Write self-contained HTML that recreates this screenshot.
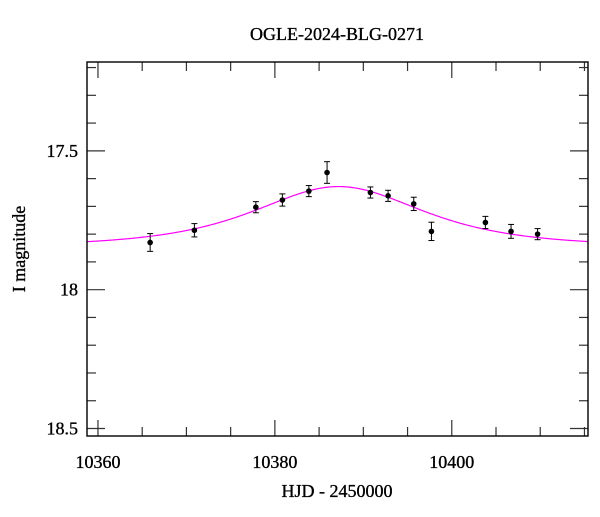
<!DOCTYPE html>
<html><head><meta charset="utf-8"><style>
body{margin:0;background:#fff;}
svg text{font-family:"Liberation Serif","DejaVu Serif",serif;fill:#000;stroke:#000;stroke-width:0.35;}
</style></head><body>
<svg id="chart" width="600" height="512" viewBox="0 0 600 512" xmlns="http://www.w3.org/2000/svg">
<text x="337" y="40" font-size="18" text-anchor="middle">OGLE-2024-BLG-0271</text>
<text transform="translate(25,249) rotate(-90)" font-size="18" text-anchor="middle">I magnitude</text>
<text x="337" y="497" font-size="18" text-anchor="middle">HJD - 2450000</text>
<g id="ticks"></g>
<path id="model" fill="none" stroke="#ff00ff" stroke-width="1.2"/>
<g id="points"></g>
<rect x="87" y="62" width="501" height="374" fill="none" stroke="#000" stroke-width="1.4"/>
</svg>
<script>
const obsDates=[10365.9,10370.9,10377.85,10380.85,10383.84,10385.9,10390.8,10392.8,10395.7,10397.7,10403.8,10406.7,10409.7];
const obsMags=[17.83,17.786,17.703,17.677,17.645,17.578,17.65,17.662,17.691,17.79,17.758,17.79,17.80];
const obsErrs=[0.032,0.024,0.02,0.022,0.02,0.039,0.02,0.02,0.024,0.033,0.022,0.025,0.02];
const modelT0=[10387.2];
const modelU0=[1.22];
const modelTE=[10.3];
const modelBase=[17.845];
const xTicks=[10360,10380,10400];
const yTicks=[17.5,18,18.5];
const yTickLabels=["17.5","18","18.5"];

const L=87,R=588,T=62,B=436;
const X0=10358.76,X1=10415.4,Y0=17.18,Y1=18.527;
const sx=v=>L+(v-X0)/(X1-X0)*(R-L);
const sy=v=>T+(v-Y0)/(Y1-Y0)*(B-T);
const NS="http://www.w3.org/2000/svg";
function mk(tag,attrs,parent){const e=document.createElementNS(NS,tag);for(const k in attrs)e.setAttribute(k,attrs[k]);parent.appendChild(e);return e;}
const tg=document.getElementById('ticks');
for(let v=10360;v<=X1;v+=5){
  const x=sx(v);const major=(v%20===0);const len=major?16:9;
  const t1=mk('line',{x1:x,x2:x,y1:B,y2:B-len,stroke:'#333','stroke-width':1.2},tg);
  
  const t2=mk('line',{x1:x,x2:x,y1:T,y2:T+len,stroke:'#333','stroke-width':1.2},tg);
  
}
xTicks.forEach(v=>{const t=mk('text',{x:sx(v),y:468,'font-size':18,'text-anchor':'middle'},tg);t.textContent=String(v);
  });
for(let i=2;i<=15;i++){
  const v=17+i*0.1;if(v<Y0||v>Y1)continue;
  const y=sy(v);const major=(i%5===0);const len=major?18:9;
  const t1=mk('line',{x1:L,x2:L+len,y1:y,y2:y,stroke:'#333','stroke-width':1.2},tg);
  
  const t2=mk('line',{x1:R,x2:R-len,y1:y,y2:y,stroke:'#333','stroke-width':1.2},tg);
  
}
yTicks.forEach((v,i)=>{const t=mk('text',{x:78,y:sy(v)+6,'font-size':18,'text-anchor':'end'},tg);t.textContent=yTickLabels[i];
  });
let d='';
for(let px=L;px<=R;px+=1){
  const t=X0+(px-L)/(R-L)*(X1-X0);
  const tau=(t-modelT0[0])/modelTE[0];
  const u=Math.sqrt(modelU0[0]*modelU0[0]+tau*tau);
  const A=(u*u+2)/(u*Math.sqrt(u*u+4));
  const m=modelBase[0]-2.5*Math.log10(A);
  d+=(d?'L':'M')+px.toFixed(1)+','+sy(m).toFixed(2);
}
document.getElementById('model').setAttribute('d',d);
const pg=document.getElementById('points');
obsDates.forEach((t,i)=>{
  const g=mk('g',{},pg);
  
  
  const x=sx(t),y=sy(obsMags[i]),ya=sy(obsMags[i]-obsErrs[i]),yb=sy(obsMags[i]+obsErrs[i]);
  mk('line',{x1:x,x2:x,y1:ya,y2:yb,stroke:'#000','stroke-width':1},g);
  mk('line',{x1:x-3,x2:x+3,y1:ya,y2:ya,stroke:'#000','stroke-width':1},g);
  mk('line',{x1:x-3,x2:x+3,y1:yb,y2:yb,stroke:'#000','stroke-width':1},g);
  mk('circle',{cx:x,cy:y,r:2.8,fill:'#000'},g);
});
</script>
</body></html>
